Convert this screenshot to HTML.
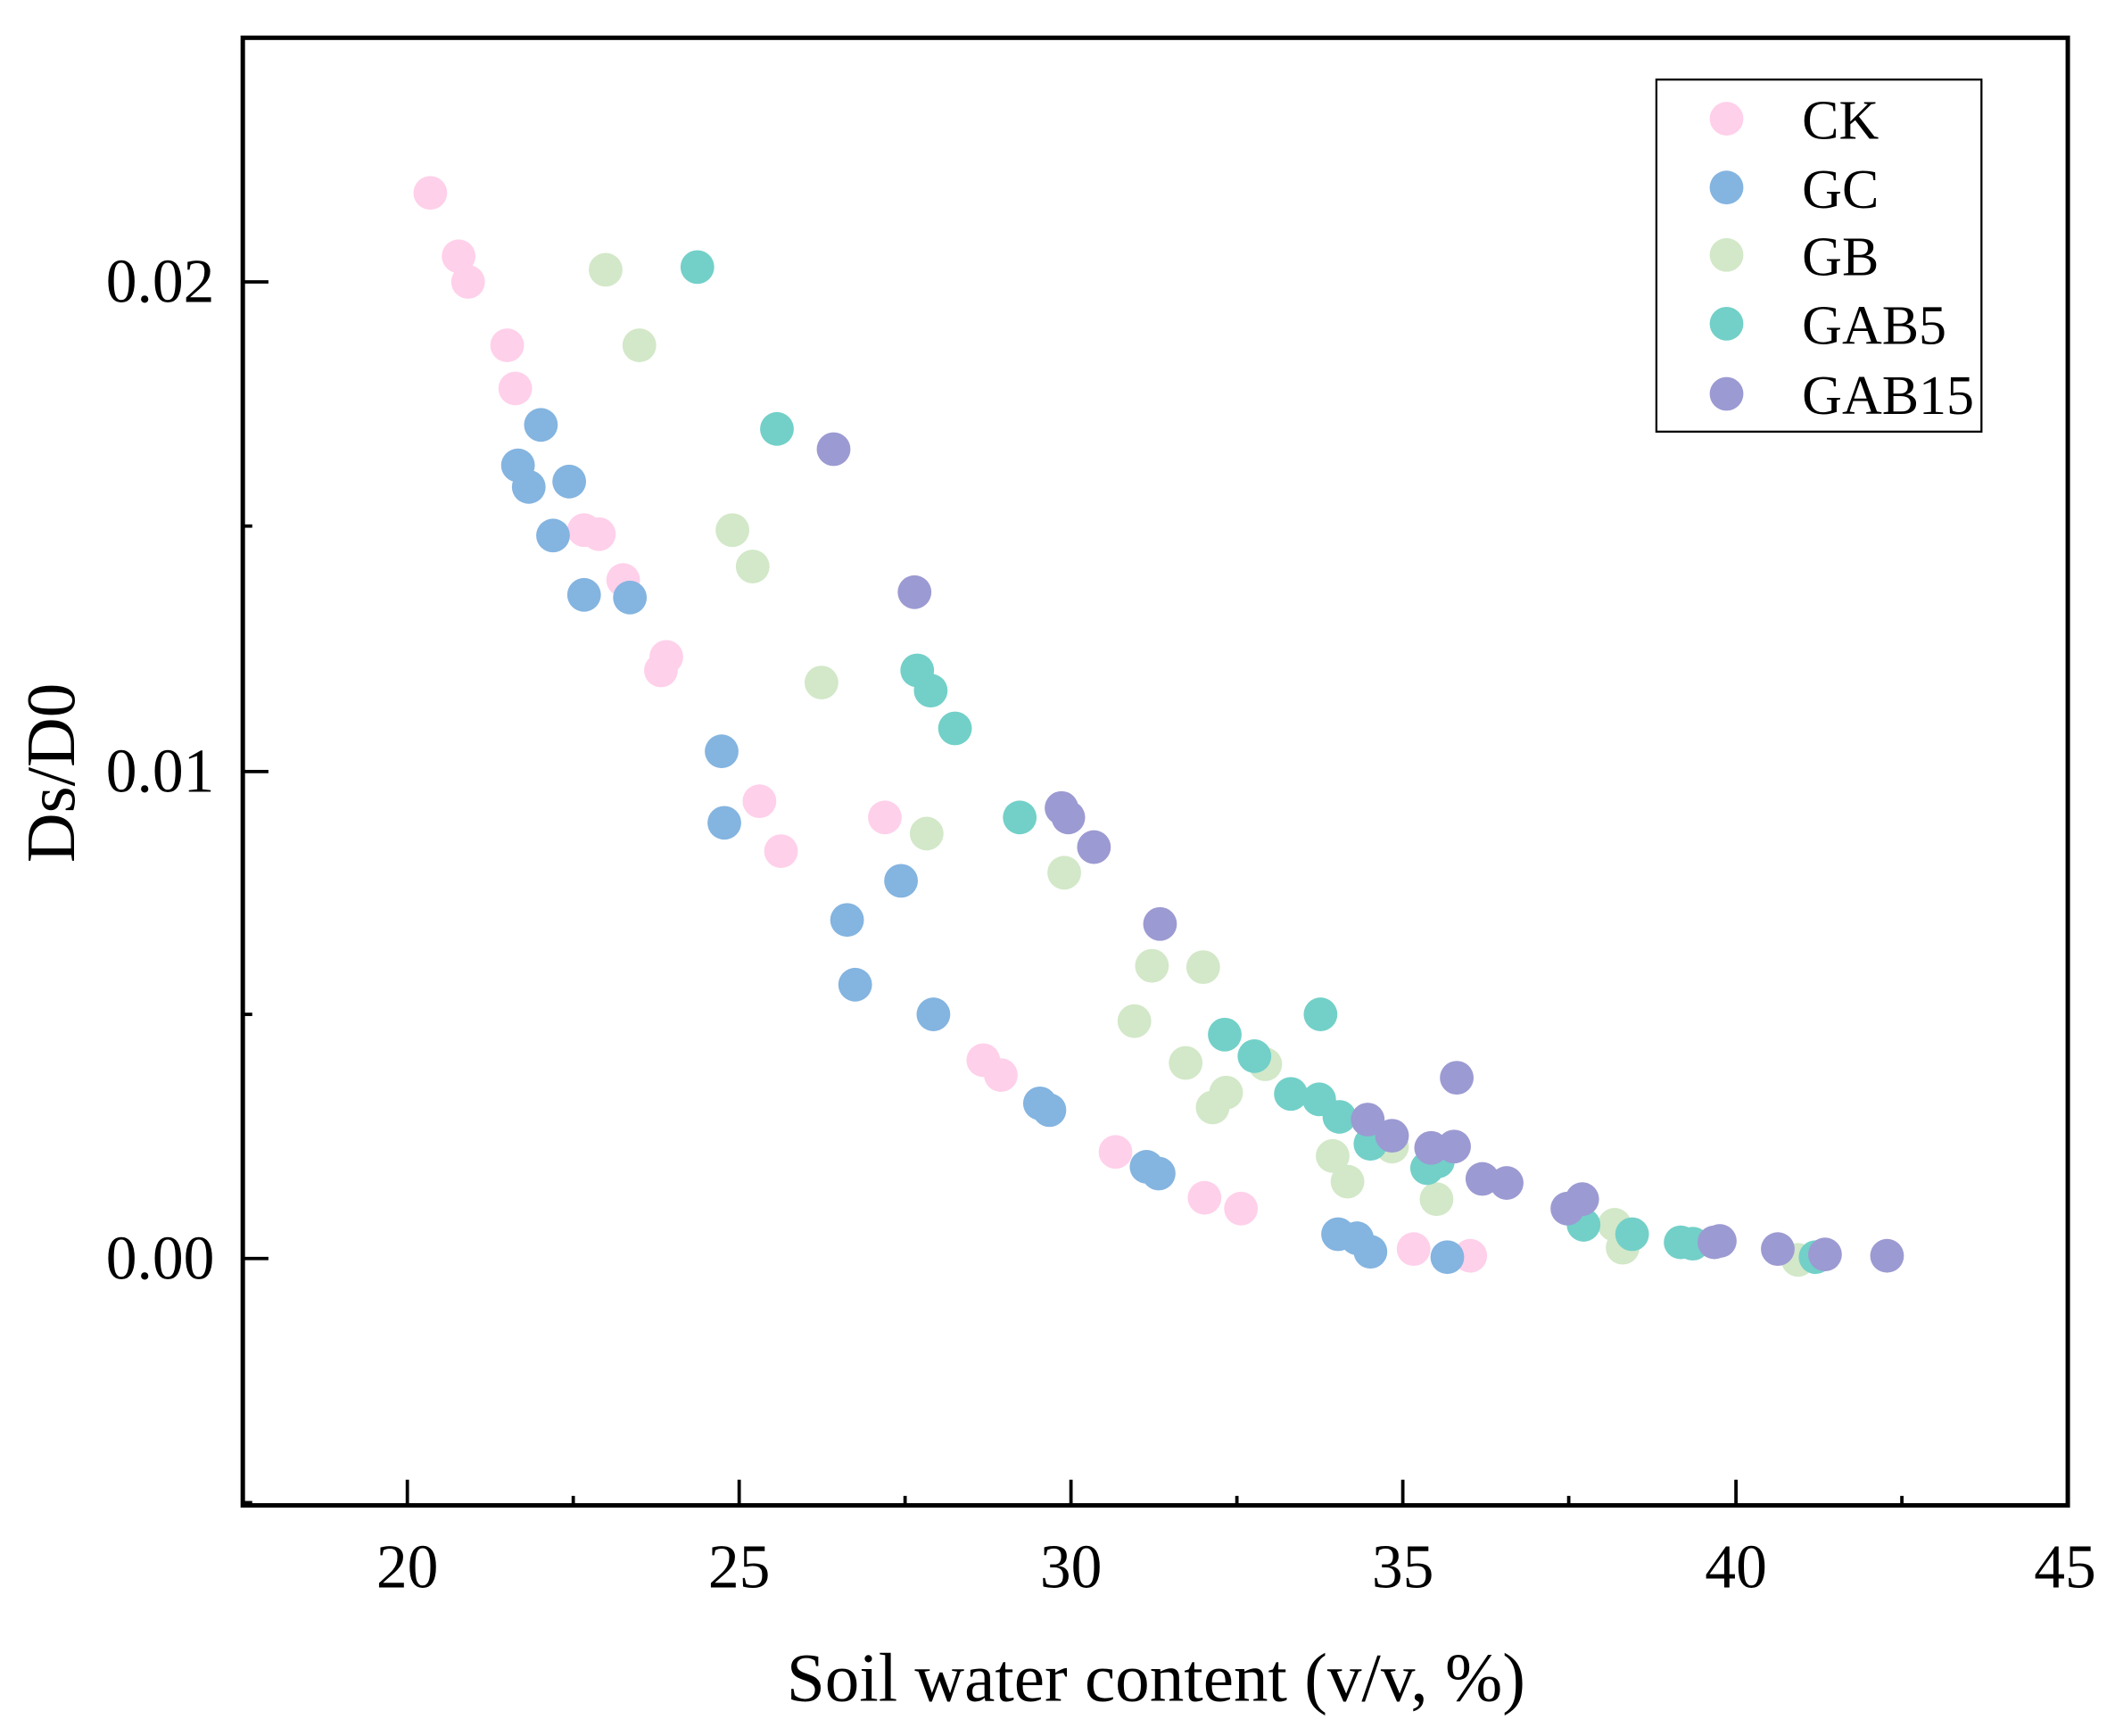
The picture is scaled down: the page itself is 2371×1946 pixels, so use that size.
<!DOCTYPE html>
<html><head><meta charset="utf-8"><style>html,body{margin:0;padding:0;background:#fff}svg{display:block}</style></head>
<body>
<svg width="2371" height="1946" viewBox="0 0 1568 1287" preserveAspectRatio="none" xmlns="http://www.w3.org/2000/svg" font-family="Liberation Serif, serif">
<rect width="1568" height="1287" fill="#fff"/>
<g id="pts">
<g fill="#ffd0ea">
<circle cx="319" cy="143" r="12.5"/><circle cx="340" cy="190" r="12.5"/><circle cx="347" cy="209" r="12.5"/><circle cx="376" cy="256" r="12.5"/><circle cx="382" cy="288" r="12.5"/><circle cx="433" cy="393" r="12.5"/><circle cx="444" cy="396" r="12.5"/><circle cx="462" cy="430" r="12.5"/><circle cx="494" cy="487" r="12.5"/><circle cx="490" cy="497" r="12.5"/><circle cx="563" cy="594" r="12.5"/><circle cx="579" cy="631" r="12.5"/><circle cx="656" cy="606" r="12.5"/><circle cx="729" cy="786" r="12.5"/><circle cx="742" cy="797" r="12.5"/><circle cx="827" cy="854" r="12.5"/><circle cx="893" cy="888" r="12.5"/><circle cx="920" cy="896" r="12.5"/><circle cx="1048" cy="926" r="12.5"/><circle cx="1090" cy="931" r="12.5"/>
</g>
<g fill="#84b4e0">
<circle cx="401" cy="315" r="12.5"/><circle cx="384" cy="345" r="12.5"/><circle cx="392" cy="361" r="12.5"/><circle cx="422" cy="357" r="12.5"/><circle cx="410" cy="397" r="12.5"/><circle cx="433" cy="441" r="12.5"/><circle cx="467" cy="443" r="12.5"/><circle cx="535" cy="557" r="12.5"/><circle cx="537" cy="610" r="12.5"/><circle cx="628" cy="682" r="12.5"/><circle cx="668" cy="653" r="12.5"/><circle cx="634" cy="730" r="12.5"/><circle cx="692" cy="752" r="12.5"/><circle cx="771" cy="818" r="12.5"/><circle cx="778" cy="823" r="12.5"/><circle cx="850" cy="865" r="12.5"/><circle cx="859" cy="870" r="12.5"/><circle cx="992" cy="915" r="12.5"/><circle cx="1006" cy="918" r="12.5"/><circle cx="1016" cy="928" r="12.5"/><circle cx="1073" cy="932" r="12.5"/>
</g>
<g fill="#d2e8c8">
<circle cx="449" cy="200" r="12.5"/><circle cx="474" cy="256" r="12.5"/><circle cx="543" cy="393" r="12.5"/><circle cx="558" cy="420" r="12.5"/><circle cx="609" cy="506" r="12.5"/><circle cx="687" cy="618" r="12.5"/><circle cx="789" cy="647" r="12.5"/><circle cx="841" cy="757" r="12.5"/><circle cx="854" cy="716" r="12.5"/><circle cx="892" cy="717" r="12.5"/><circle cx="879" cy="788" r="12.5"/><circle cx="899" cy="821" r="12.5"/><circle cx="909" cy="810" r="12.5"/><circle cx="938" cy="789" r="12.5"/><circle cx="988" cy="857" r="12.5"/><circle cx="999" cy="876" r="12.5"/><circle cx="1032" cy="850" r="12.5"/><circle cx="1065" cy="889" r="12.5"/><circle cx="1197" cy="908" r="12.5"/><circle cx="1203" cy="925" r="12.5"/><circle cx="1333" cy="934" r="12.5"/>
</g>
<g fill="#72d0c8">
<circle cx="517" cy="198" r="12.5"/><circle cx="576" cy="318" r="12.5"/><circle cx="680" cy="497" r="12.5"/><circle cx="690" cy="512" r="12.5"/><circle cx="708" cy="540" r="12.5"/><circle cx="756" cy="606" r="12.5"/><circle cx="908" cy="767" r="12.5"/><circle cx="930" cy="783" r="12.5"/><circle cx="979" cy="752" r="12.5"/><circle cx="957" cy="811" r="12.5"/><circle cx="978" cy="815" r="12.5"/><circle cx="993" cy="828" r="12.5"/><circle cx="1016" cy="848" r="12.5"/><circle cx="1058" cy="866" r="12.5"/><circle cx="1066" cy="861" r="12.5"/><circle cx="1174" cy="908" r="12.5"/><circle cx="1210" cy="915" r="12.5"/><circle cx="1246" cy="921" r="12.5"/><circle cx="1255" cy="922" r="12.5"/><circle cx="1346" cy="932" r="12.5"/>
</g>
<g fill="#9c9ad2">
<circle cx="618" cy="333" r="12.5"/><circle cx="678" cy="439" r="12.5"/><circle cx="787" cy="599" r="12.5"/><circle cx="792" cy="606" r="12.5"/><circle cx="811" cy="628" r="12.5"/><circle cx="860" cy="685" r="12.5"/><circle cx="1014" cy="830" r="12.5"/><circle cx="1032" cy="842" r="12.5"/><circle cx="1061" cy="851" r="12.5"/><circle cx="1078" cy="850" r="12.5"/><circle cx="1080" cy="799" r="12.5"/><circle cx="1099" cy="874" r="12.5"/><circle cx="1117" cy="877" r="12.5"/><circle cx="1162" cy="896" r="12.5"/><circle cx="1173" cy="889" r="12.5"/><circle cx="1271" cy="921" r="12.5"/><circle cx="1275" cy="920" r="12.5"/><circle cx="1318" cy="926" r="12.5"/><circle cx="1353" cy="930" r="12.5"/><circle cx="1399" cy="931" r="12.5"/>
</g>
</g>
<rect x="180" y="28" width="1353" height="1088" fill="none" stroke="#000" stroke-width="3.3"/>
<g stroke="#000" stroke-width="2.5">
<line x1="302" y1="1116" x2="302" y2="1097"/><line x1="548" y1="1116" x2="548" y2="1097"/><line x1="794" y1="1116" x2="794" y2="1097"/><line x1="1040" y1="1116" x2="1040" y2="1097"/><line x1="1287" y1="1116" x2="1287" y2="1097"/>
<line x1="425" y1="1116" x2="425" y2="1109"/><line x1="671" y1="1116" x2="671" y2="1109"/><line x1="917" y1="1116" x2="917" y2="1109"/><line x1="1163" y1="1116" x2="1163" y2="1109"/><line x1="1410" y1="1116" x2="1410" y2="1109"/>
<line x1="180" y1="933" x2="199" y2="933"/><line x1="180" y1="572" x2="199" y2="572"/><line x1="180" y1="209" x2="199" y2="209"/>
<line x1="180" y1="1114" x2="187" y2="1114"/><line x1="180" y1="752" x2="187" y2="752"/><line x1="180" y1="390" x2="187" y2="390"/>
</g>
<g font-size="46" text-anchor="middle" fill="#000">
<text x="302" y="1177">20</text><text x="548" y="1177">25</text><text x="794" y="1177">30</text><text x="1040" y="1177">35</text><text x="1287" y="1177">40</text><text x="1531" y="1177">45</text>
</g>
<g font-size="46" text-anchor="end" fill="#000">
<text x="159" y="948">0.00</text><text x="159" y="587">0.01</text><text x="159" y="224">0.02</text>
</g>
<text x="857" y="1261" font-size="51" text-anchor="middle">Soil water content (v/v, %)</text>
<text transform="translate(55,573) rotate(-90)" font-size="51" text-anchor="middle">Ds/D0</text>
<rect x="1228" y="59" width="241" height="261" fill="#fff" stroke="#000" stroke-width="1.5"/>
<circle cx="1280" cy="88" r="12.5" fill="#ffd0ea"/><circle cx="1280" cy="139" r="12.5" fill="#84b4e0"/><circle cx="1280" cy="189" r="12.5" fill="#d2e8c8"/><circle cx="1280" cy="240" r="12.5" fill="#72d0c8"/><circle cx="1280" cy="292" r="12.5" fill="#9c9ad2"/>
<g font-size="41" fill="#000">
<text x="1336" y="103">CK</text><text x="1336" y="154">GC</text><text x="1336" y="204">GB</text><text x="1336" y="255">GAB5</text><text x="1336" y="307">GAB15</text>
</g>
</svg>
</body></html>
